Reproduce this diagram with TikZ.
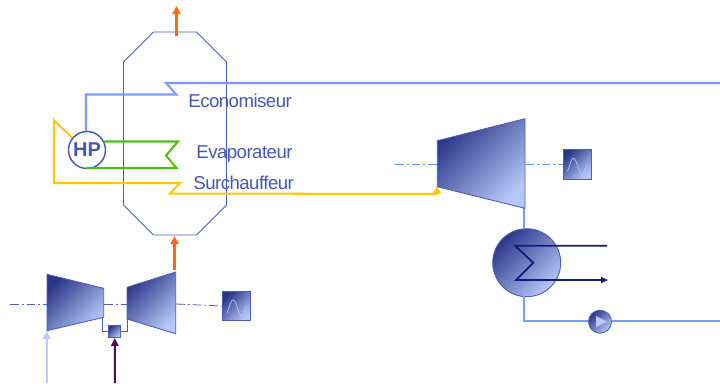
\documentclass[tikz,border=0pt]{standalone}
\usepackage{fontspec}
\setmainfont{Liberation Sans}
\newfontfamily\labelfont[LetterSpace=-2.8]{Liberation Sans}
\usetikzlibrary{arrows.meta, positioning}
\definecolor{plantEdge}{HTML}{4A5FB5}
\definecolor{plantDark}{HTML}{2B3688}
\definecolor{plantLight}{HTML}{B6C8F8}
\definecolor{plantText}{HTML}{4557B0}
\definecolor{waterBlue}{HTML}{7B9BFA}
\definecolor{airBlue}{HTML}{BBCCFF}
\definecolor{steamYellow}{HTML}{FFC800}
\definecolor{evapGreen}{HTML}{4FC010}
\definecolor{gasOrange}{HTML}{FF6A13}
\definecolor{fuelPurple}{HTML}{4B0F55}
\definecolor{coolNavy}{HTML}{15197A}
\tikzset{
  gradfill/.style  = {top color=plantDark, bottom color=plantLight, shading angle=45},
  machine/.style   = {gradfill, draw=plantEdge, line width=0.5pt},
  genbox/.style    = {machine, rectangle, minimum width=0.56cm, minimum height=0.59cm, inner sep=0pt},
  shaftline/.style = {plantEdge, line width=0.45pt, dash pattern=on 5pt off 1.7pt on 1pt off 1.7pt},
  water/.style     = {waterBlue, line width=1.15pt},
  steam/.style     = {steamYellow, line width=1.15pt},
  evap/.style      = {evapGreen, line width=1.15pt},
  gasflow/.style   = {gasOrange, line width=1.15pt, -{Triangle[length=1.6mm, width=1.6mm]}},
  coil/.style      = {coolNavy, line width=1pt},
  lbl/.style       = {font=\labelfont\fontsize{10.6}{12}\selectfont, plantText, inner sep=0pt},
}
\begin{document}
\begin{tikzpicture}[x=0.02cm,y=-0.02cm]
  \useasboundingbox (0,0) rectangle (720,383);
  % chaudiere
  \draw[plantEdge, line width=0.55pt] (153.5,32) -- (196.5,32) -- (226.5,62) -- (226.5,205)
    -- (196.5,235) -- (153.5,235) -- (123.5,205) -- (123.5,62) -- cycle;
  \coordinate (stackbase) at (176.5,36);
  \coordinate (stacktop) at (176.5,6);
  \draw[gasflow] (stackbase) -- (stacktop);
  % ballon
  \node[circle, draw=plantEdge, line width=0.85pt, fill=white, minimum size=0.74cm, inner sep=0pt,
        font=\fontsize{11.4}{12}\selectfont\bfseries, text=plantText] (hp) at (87,150) {HP};
  \coordinate (ecoin) at (720,83);
  \draw[water] (ecoin) -- (166,83) -- (176.5,94.5) -- (86,94.5) -- (hp.north -| 86,0);
  \coordinate (evapout) at (104,141.5);
  \coordinate (evapin) at (86,168);
  \draw[evap] (evapout) -- (178,141.5) -- (166,155.5) -- (176.5,168) -- (evapin);
  \coordinate (htin) at (437,194);
  \coordinate (httip) at (437,186.5);
  \draw[steam] (hp.140) -- (54,120.5) -- (54,183) -- (180,183) -- (170,193.5) -- (htin);
  \draw[steamYellow, line width=1.15pt, -{Triangle[length=1.4mm, width=1.6mm]}] (htin) -- (httip);
  \node[lbl, anchor=base west] (eco) at (188,107) {Economiseur};
  \node[lbl, anchor=base west] (eva) at (196,158) {Evaporateur};
  \node[lbl, anchor=base west] (sur) at (193,189) {Surchauffeur};
  % turbine a vapeur
  \node[genbox] (genst) at (577,164.3) {};
  \draw[shaftline, line width=0.4pt, waterBlue!80!plantEdge] (395,164.3) -- (437,164.3);
  \draw[shaftline, line width=0.4pt, waterBlue!80!plantEdge] (525,164.3) -- (genst.west);
  \coordinate (stout) at (524,208);
  \node[machine, circle, minimum size=1.36cm, inner sep=0pt] (cond) at (526.7,262.7) {};
  \draw[water] (stout) -- (cond.north -| stout);
  \draw[machine] (437.3,140.7) -- (525,118.7) -- (525,208.3) -- (437.3,186.7) -- cycle;
  \node[machine, circle, minimum size=0.46cm, inner sep=0pt] (pump) at (600,321.7) {};
  \coordinate (bend) at (524,320.7);
  \coordinate (feedout) at (720,320.7);
  \draw[water] (524,296) -- (bend) -- (pump.west |- bend);
  \draw[water] (pump.east |- bend) -- (feedout);
  \fill[plantLight] (596,316) -- (607.3,321.7) -- (596,327.3) -- cycle;
  \draw[coil] (607,245.7) -- (515,245.7) -- (533.3,262.7) -- (516,280) -- (600,280);
  \draw[coil, -{Triangle[length=1.4mm, width=1.2mm]}] (600,280) -- (608,280);
  % turbine a gaz
  \node[genbox] (gengt) at (236.6,306) {};
  \node[machine, rectangle, minimum width=0.24cm, minimum height=0.25cm, inner sep=0pt] (comb) at (114.8,331.3) {};
  \draw[shaftline] (10,304) -- (47,304);
  \draw[shaftline] (104,304) -- (127,304);
  \draw[shaftline] (176,304) -- (gengt.west);
  \draw[plantEdge, line width=0.55pt] (102.3,317.3) -- (102.3,331.3) -- (comb.west);
  \draw[plantEdge, line width=0.55pt] (127.7,319) -- (127.7,331.3) -- (comb.east);
  \draw[machine] (47,274.3) -- (103.7,288.3) -- (103.7,317.3) -- (47,330.7) -- cycle;
  \draw[machine] (127,287.3) -- (175.7,272) -- (175.7,333.7) -- (127,319) -- cycle;
  \foreach \gname in {genst, gengt}
    \draw[plantLight, line width=0.4pt, shift={(\gname.center)}]
      plot[smooth, samples=25, domain=-9.5:10] (\x,{2-8*cos(360*(\x+3.5)/17)});
  \coordinate (gasin) at (174.5,270);
  \coordinate (gasout) at (174.5,236);
  \draw[gasflow] (gasin) -- (gasout);
  \coordinate (airin) at (46.7,383);
  \coordinate (fuelin) at (115,383);
  \draw[airBlue, line width=1.15pt, -{Triangle[length=1.6mm, width=1.6mm]}] (airin) -- (46.7,331);
  \draw[fuelPurple, line width=1.15pt, -{Triangle[length=1.6mm, width=1.5mm]}] (fuelin) -- (comb.south);
\end{tikzpicture}
\end{document}
